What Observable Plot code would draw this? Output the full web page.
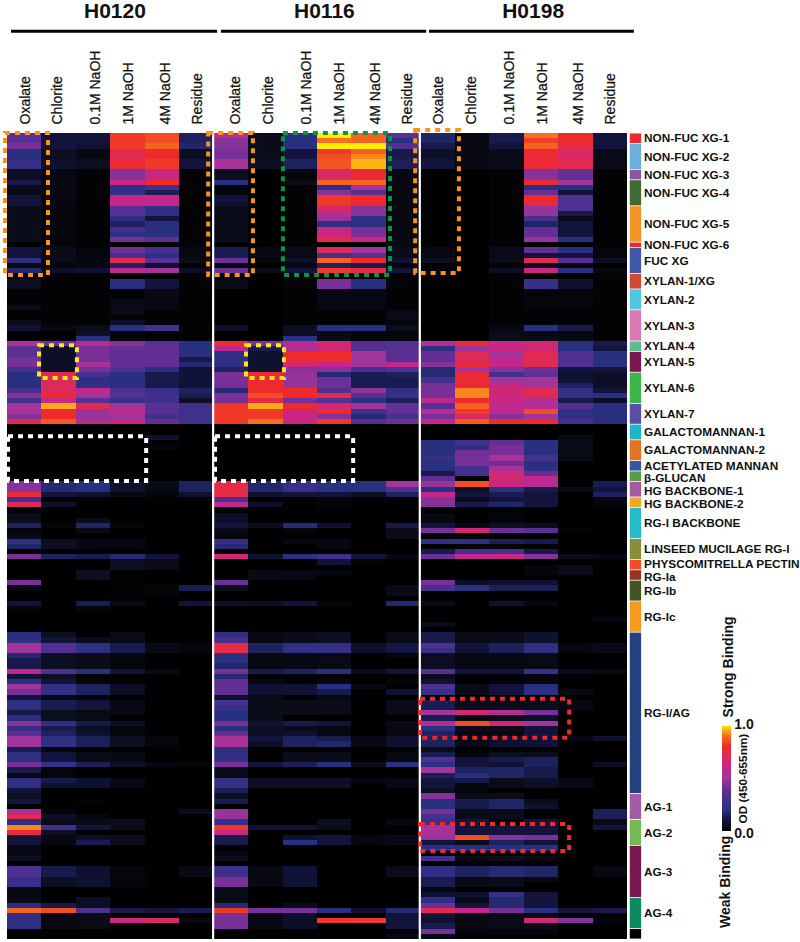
<!DOCTYPE html>
<html><head><meta charset="utf-8">
<style>html,body{margin:0;padding:0;background:#fff}svg{display:block}</style>
<script src="https://cdn.jsdelivr.net/npm/d3@7"></script>
<script src="https://cdn.jsdelivr.net/npm/@observablehq/plot@0.6"></script>
</head><body><div id="c"></div>
<script>
// Each list: start row, OD value, start row, OD value ... (a value holds until the next start row)
const h0120_oxalate=[0,.36,2,.42,3,.2,5,.25,7,.06,9,.12,10,.04,12,.1,14,.05,21,0,22,.1,24,.22,25,.03,26,.17,27,0,28,.06,30,.01,33,.05,34,.01,36,.05,37,.08,38,0,40,.52,41,.36,43,.42,45,.3,46,.2,49,.3,50,.45,51,.28,52,.52,54,.45,55,.72,56,0,67,.45,69,.78,70,.3,71,.7,72,0,73,.05,75,.15,76,.02,77,.04,78,.22,79,.16,80,0,81,.42,82,0,86,.42,87,.03,88,0,90,.1,91,.02,92,0,96,.2,97,.22,98,.5,100,.17,101,.12,103,.6,104,.1,105,.2,106,.5,107,.42,108,.1,109,.22,111,.12,112,.2,113,.45,114,.25,115,.35,116,.5,118,.13,119,.22,121,.42,122,.12,123,.03,124,.22,126,.1,127,.06,128,.1,129,0,130,.52,131,.72,132,.22,133,.92,134,.75,135,.1,137,.03,139,.06,140,0,141,.32,143,.25,145,.03,147,.04,148,.2,149,.88,150,.22,153,0];
const h0120_chlorite=[0,.1,3,.06,5,.08,7,.03,14,.02,22,.05,24,.05,25,.02,26,.07,27,.01,37,.03,38,0,40,.4,41,.07,46,.72,47,.7,50,.8,51,.62,52,.95,53,.8,55,.87,56,0,67,.18,69,.1,70,0,71,.07,72,0,75,.02,76,0,78,.06,80,0,81,.15,82,0,96,.06,97,.1,98,.33,100,.06,103,.32,104,.06,105,.1,106,.24,108,.03,109,.13,111,.06,113,.22,114,.13,115,.15,116,.22,118,.02,119,.1,121,.25,122,.02,124,.12,125,.08,126,0,130,.02,131,.07,132,.04,133,.28,134,.07,135,.03,137,0,141,.12,143,.06,145,0,148,.12,149,.85,150,.03,153,0];
const h0120_naoh01=[0,.1,2,.08,3,.03,5,.06,7,.01,22,.02,24,.03,26,.08,27,.01,37,.05,38,.07,39,.2,40,.55,41,.42,44,.52,45,.42,46,.3,47,.22,49,.6,50,.5,51,.35,52,.72,53,.48,55,.55,56,0,67,.2,69,.08,70,0,74,.05,75,.16,76,.04,77,0,78,.03,80,0,81,.13,82,0,84,.06,86,0,90,.13,91,.02,92,0,97,.05,98,.22,100,.05,103,.2,104,0,105,.02,106,.15,108,.02,109,.1,111,.04,113,.12,114,.06,115,.08,116,.14,118,0,119,.04,121,.14,122,0,124,.08,126,0,128,.01,129,0,131,.02,132,.04,133,.1,134,0,135,.07,136,.13,137,0,141,.08,145,0,147,.06,149,.32,150,.04,153,0];
const h0120_naoh1=[0,.82,3,.72,5,.78,7,.45,9,.62,10,.22,12,.6,14,.35,16,.22,17,.15,18,.3,19,.22,20,.42,21,0,22,.4,23,.3,24,.72,25,.15,26,.58,27,0,28,.2,30,.01,32,.04,35,.01,36,.07,37,.2,38,.02,40,.45,41,.38,45,.33,46,.2,49,.32,50,.35,51,.25,52,.5,53,.6,54,.5,55,.62,56,0,67,.08,69,.04,70,0,75,.02,76,0,78,.03,80,0,81,.18,82,.06,84,0,85,.01,90,.03,91,0,96,.04,98,.13,100,.02,103,.1,104,0,105,.01,106,.07,108,0,109,.03,112,0,113,.07,114,.02,116,.06,118,0,119,.03,121,.07,122,0,124,.03,126,0,132,.05,134,0,135,.05,137,0,141,.02,145,0,149,.12,150,0,151,.62,152,.01,153,0];
const h0120_naoh4=[0,.85,2,.88,3,.8,5,.82,7,.62,9,.8,10,.3,11,.14,12,.6,14,.22,16,.1,17,.2,20,.36,21,0,22,.3,23,.22,24,.35,25,.08,26,.5,27,0,28,.1,30,.03,34,.01,37,.3,38,0,40,.35,41,.38,45,.2,46,.12,49,.25,50,.28,52,.35,54,.28,55,.38,56,0,58,.08,59,0,60,.02,61,0,67,.04,69,.02,70,0,81,.1,82,.04,84,0,87,.02,89,0,98,.04,100,0,103,.03,104,0,116,.02,118,0,121,.03,122,0,149,.1,150,0,151,.68,152,0];
const h0120_residue=[0,.15,2,.17,3,.06,5,.1,7,.01,22,.03,24,.05,25,0,26,.07,27,.01,37,.01,40,.2,43,.12,44,.18,45,.09,49,.15,50,.13,51,.06,52,.28,56,0,67,.15,69,.08,70,0,87,.13,88,0,90,.1,91,0,98,.02,100,0,121,.02,122,0,130,.05,131,0,141,.04,143,0,149,.13,150,0,151,.03,152,0];
const h0116_oxalate=[0,.55,1,.45,3,.42,5,.52,7,.06,9,.2,10,.02,12,.1,13,.08,14,.05,21,0,22,.13,24,.4,25,.03,26,.4,27,0,28,.04,30,0,37,.07,38,0,40,.8,41,.58,42,.22,45,.15,46,.42,49,.18,50,.42,52,.82,56,0,67,.75,70,.32,71,.58,72,0,73,.07,75,.1,76,.04,77,.02,78,.24,79,.18,80,0,81,.65,82,0,86,.4,87,.05,88,0,90,.07,91,0,96,.22,97,.3,98,.75,100,.2,102,.17,103,.42,104,.18,105,.38,108,.08,109,.3,110,.25,111,.2,113,.42,114,.2,115,.38,116,.52,118,.22,119,.23,121,.42,122,.05,124,.24,126,.14,127,.06,128,.12,129,0,130,.48,132,.25,133,.82,134,.62,135,.12,137,0,138,.03,139,.05,140,0,141,.27,143,.42,145,.04,148,.18,149,.82,150,.42,153,0];
const h0116_chlorite=[0,.05,5,.06,7,0,22,.03,24,.02,25,0,26,.05,27,0,40,.42,41,.13,42,.08,46,.78,48,.8,50,.85,51,.75,52,.95,53,.82,55,.9,56,0,67,.17,69,.08,70,0,71,.07,72,0,75,.05,76,0,81,.08,82,0,84,.04,86,0,90,.06,91,0,96,.03,98,.15,100,.03,103,.12,104,0,105,.03,106,.08,108,.04,109,.05,113,.08,114,.06,116,.1,117,.07,118,0,121,.1,122,0,124,.07,126,0,133,.09,134,0,141,.03,145,0,149,.42,150,.03,153,0];
const h0116_naoh01=[0,.2,3,.1,5,.15,7,.02,9,.05,10,.01,22,.04,24,.07,25,.03,26,.1,27,.01,37,.06,39,.2,40,.55,42,.8,44,.65,45,.45,46,.48,49,.8,51,.42,52,.8,53,.62,56,0,67,.25,69,.1,70,0,75,.18,76,.02,77,0,78,.03,79,0,81,.22,82,0,84,.03,86,0,90,.1,91,0,96,.05,98,.23,100,.03,103,.15,104,0,105,.01,106,.09,108,0,109,.05,112,0,113,.12,114,.05,115,.08,116,.15,118,0,119,.05,121,.14,122,0,124,.07,126,0,133,.09,134,0,135,.08,136,.2,137,0,141,.09,145,0,148,.05,149,.42,150,.07,153,0];
const h0116_naoh1=[0,1,1,.9,2,1,3,.82,4,.85,5,.86,7,.68,9,.88,10,.22,11,.45,12,.82,14,.68,15,.58,16,.48,17,.22,18,.62,20,.75,21,0,22,.7,23,.28,24,.88,25,.15,26,.82,27,0,28,.42,30,.03,34,.01,37,.2,38,.04,40,.65,42,.8,44,.6,45,.45,46,.18,47,.4,49,.32,50,.72,51,.35,52,.65,53,.8,54,.45,55,.82,56,0,67,.2,69,.1,70,.02,72,0,75,.08,76,0,78,.03,80,0,81,.28,82,.09,83,0,84,.03,85,0,90,.02,91,0,96,.06,98,.24,100,.04,103,.2,104,0,105,.03,106,.2,107,.12,108,.03,109,.05,112,0,113,.1,114,.03,116,.12,117,.17,118,0,119,.05,121,.2,122,0,124,.07,126,0,132,.06,133,.05,134,0,135,.1,137,0,149,.2,150,0,151,.82,152,0];
const h0116_naoh4=[0,.88,2,1,3,.88,4,.92,5,.96,7,.78,9,.88,10,.52,11,.35,12,.8,14,.45,16,.22,17,.2,18,.42,20,.62,21,0,22,.5,23,.35,24,.8,25,.12,26,.75,27,0,28,.2,30,.03,34,.01,37,.2,38,.02,40,.33,42,.5,45,.3,46,.13,49,.47,50,.35,51,.2,52,.5,53,.28,54,.18,55,.35,56,0,67,.2,69,.06,70,0,81,.1,82,.01,83,0,98,.07,100,0,103,.05,104,0,106,.03,107,0,116,.03,118,0,121,.05,122,0,124,.03,125,0,135,.03,137,0,149,.08,150,0,151,.82,152,0];
const h0116_residue=[0,.35,1,.2,2,.33,3,.12,5,.14,7,.03,22,.05,24,.08,25,.02,26,.1,27,.01,34,.04,36,.02,37,.05,38,.02,40,.35,44,.6,45,.33,46,.15,47,.13,49,.23,50,.25,51,.14,52,.38,54,.3,55,.4,56,0,67,.5,68,.32,69,.15,70,0,75,.12,76,.05,78,0,81,.03,82,0,87,.04,89,0,90,.17,91,0,96,.04,98,.11,100,.02,101,0,103,.1,104,0,105,.02,106,0,107,.08,108,0,109,.04,112,0,113,.04,114,.03,116,.08,118,0,119,.03,121,.2,122,0,124,.03,126,0,132,.03,133,0,135,.04,137,0,141,.05,143,0,149,.18,150,.1,153,0,154,.03];
const h0198_oxalate=[0,.16,2,.12,3,.07,5,.1,7,0,22,.03,24,.06,25,0,26,.02,27,0,40,.55,41,.2,42,.38,44,.45,45,.18,47,.3,48,.42,51,.58,52,.35,53,.55,54,.42,55,.6,56,0,59,.2,62,.24,63,.2,65,.12,66,.38,67,.48,68,.2,69,.6,70,.45,72,0,73,.03,75,.1,76,.42,77,0,78,.22,79,0,80,.12,81,.4,82,0,86,.42,87,.3,88,0,90,.04,91,0,94,.05,95,0,96,.12,98,.33,99,.25,100,.06,103,.35,104,.05,105,.08,106,.33,107,.25,108,0,109,.13,111,.5,112,.13,113,.55,114,.2,115,.15,118,.05,119,.13,120,.33,121,.22,122,.5,123,.14,124,.1,126,.06,127,.45,128,.2,130,.42,131,.3,132,.25,133,.52,135,.48,136,.1,137,.2,138,0,139,.28,140,0,141,.22,143,.13,145,.03,146,.08,147,.22,148,.4,149,.72,150,.1,151,.08,152,.13,153,.42,154,.03];
const h0198_chlorite=[0,.03,7,0,40,.78,41,.5,42,.72,43,.68,44,.78,45,.5,46,.78,49,.92,51,.8,52,.88,53,.82,54,.7,55,.87,56,0,59,.3,60,.22,61,.42,64,.3,66,0,67,.85,68,.07,69,.1,70,.05,71,.12,72,0,75,.03,76,.65,77,0,78,.22,79,0,80,.3,81,.6,82,0,86,.06,87,.2,88,0,96,.04,98,.1,99,.08,100,.03,103,.1,104,0,106,.04,108,0,109,.05,111,.65,112,.03,113,.85,114,.05,115,.03,116,.04,118,0,119,.02,120,.1,122,.15,123,.2,124,.12,125,.02,127,.05,128,.12,130,.05,132,.1,135,.85,136,.05,137,.2,138,0,139,.03,140,0,141,.15,143,.04,145,0,146,.08,147,.04,148,.1,149,.6,150,.03,153,.02,154,0];
const h0198_naoh01=[0,.12,2,.1,3,.05,7,.01,22,.04,24,.05,25,.01,26,.07,27,.01,37,.03,38,.05,40,.62,42,.5,43,.6,45,.45,46,.28,47,.5,48,.6,49,.65,50,.62,52,.58,54,.45,55,.8,56,0,59,.38,60,.42,62,.52,63,.4,64,.52,65,.65,67,.62,68,.2,69,.13,70,.1,71,.16,72,0,73,.02,75,.06,76,.4,77,0,78,.14,79,0,80,.3,81,.62,82,0,86,.08,87,.14,88,0,90,.08,91,0,96,.05,98,.14,100,.03,103,.1,104,.01,106,.1,108,0,109,.05,111,.55,112,.05,113,.65,114,.05,115,.03,116,.08,118,0,119,.06,120,.12,121,.09,122,.16,124,.05,126,0,127,.05,128,.16,130,.05,132,0,133,.1,135,.45,136,.15,137,.2,138,0,139,.06,140,0,141,.18,143,.05,145,0,146,.25,147,.18,149,.42,150,.04,153,.02,154,0];
const h0198_naoh1=[0,.9,1,.83,2,.88,3,.78,7,.45,9,.78,10,.2,11,.38,12,.8,13,.75,14,.48,16,.3,17,.16,18,.38,20,.48,21,0,22,.38,23,.1,24,.72,25,.05,26,.62,27,0,28,.25,30,.02,34,.01,37,.2,38,.04,40,.65,42,.72,45,.4,46,.38,47,.5,49,.72,51,.55,53,.85,54,.5,55,.8,56,0,59,.2,62,.3,63,.2,64,.22,65,.38,66,.6,67,.55,68,.12,69,.1,72,0,75,.05,76,.35,77,0,78,.12,79,0,80,.12,81,.45,82,0,83,.02,85,0,86,.08,87,.14,88,0,90,.03,91,0,96,.08,98,.22,100,.04,103,.25,104,.02,106,.2,108,0,109,.05,111,.42,112,.07,113,.5,114,.1,116,.09,118,0,119,.05,120,.15,122,.12,124,.07,126,0,128,.05,129,.08,130,0,132,.1,135,.42,136,.1,137,.2,138,0,139,.03,140,0,141,.16,143,.03,144,0,146,.1,149,.2,150,.04,151,.65,152,.04,153,.02,154,0];
const h0198_naoh4=[0,.8,2,.75,3,.68,5,.72,7,.38,9,.5,10,.2,11,.1,12,.32,15,.12,16,.05,17,.1,20,.2,21,0,22,.2,23,.1,24,.35,25,.03,26,.2,27,0,28,.08,30,.02,34,.01,37,.12,38,.03,40,.2,42,.33,45,.1,46,.08,48,.15,49,.25,51,.12,52,.33,53,.22,55,.3,56,0,58,.04,63,0,68,.04,69,0,76,.01,77,0,81,.05,82,0,83,.05,85,0,98,.03,100,0,103,.05,104,0,107,.04,108,0,109,.03,111,0,116,.03,117,0,124,.04,126,0,149,.1,150,0,151,.45,152,0];
const h0198_residue=[0,.1,3,.04,7,.01,22,.02,24,.06,25,0,26,.03,27,.01,37,.01,40,.12,41,.1,42,.2,45,.1,46,.07,49,.1,50,.2,51,.07,52,.2,56,0,67,.13,68,.1,69,.15,70,.02,72,0,81,.03,82,0,93,.03,94,0,98,.04,100,0,103,.03,104,0,116,.08,117,0,121,.06,122,0,130,.14,132,.04,133,.1,134,0,141,.03,143,0,149,.12,150,0,151,.02,152,0];

const columnLists=[h0120_oxalate,h0120_chlorite,h0120_naoh01,h0120_naoh1,h0120_naoh4,h0120_residue,h0116_oxalate,h0116_chlorite,h0116_naoh01,h0116_naoh1,h0116_naoh4,h0116_residue,h0198_oxalate,h0198_chlorite,h0198_naoh01,h0198_naoh1,h0198_naoh4,h0198_residue];
const fractions=["Oxalate","Chlorite","0.1M NaOH","1M NaOH","4M NaOH","Residue"];
const samples=["H0120","H0116","H0198"];
const sampleCentres=[3.12,9.2,15.26];
const barStarts=[.116,6.21,12.25];
const barEnds=[6.1,12.17,18.2];
const fractionCols=[.52,1.45,2.56,3.51,4.59,5.52,6.62,7.58,8.68,9.65,10.69,11.61,12.51,13.47,14.58,15.53,16.58,17.51];
const groupNames=["NON-FUC XG-1","NON-FUC XG-2","NON-FUC XG-3","NON-FUC XG-4","NON-FUC XG-5","NON-FUC XG-6","FUC XG","XYLAN-1/XG","XYLAN-2","XYLAN-3","XYLAN-4","XYLAN-5","XYLAN-6","XYLAN-7","GALACTOMANNAN-1","GALACTOMANNAN-2","ACETYLATED MANNAN","β-GLUCAN","HG BACKBONE-1","HG BACKBONE-2","RG-I BACKBONE","LINSEED MUCILAGE RG-I","PHYSCOMITRELLA PECTIN","RG-Ia","RG-Ib","RG-Ic","RG-I/AG","AG-1","AG-2","AG-3","AG-4",""];
const groupStarts=[0,2,7,9,14,21,22,27,30,34,40,42,46,52,56,59,63,65,67,70,72,78,82,84,86,90,96,127,132,137,147,153];
const groupColors=["#ee2a2e","#6ab0dc","#8a55a5","#3f6b34","#f29528","#ee2a2e","#3f59a8","#d2492e","#4dc6e0","#db79b5","#5abf8f","#7a1750","#3cb64b","#5d4ea5","#1db6c8","#e17327","#3a55a8","#549d46","#a559a5","#eea72b","#25bccb","#8a8d3c","#f04e2a","#9b3325","#435425","#f49b20","#24427f","#a45ba5","#73b954","#7a1750","#0a8a5e","#000000"];
const labelNudge={"β-GLUCAN":.35,"HG BACKBONE-1":.2,"HG BACKBONE-2":.2,"PHYSCOMITRELLA PECTIN":-.25,"RG-Ia":.25};
const odStops=[0,.02,.05,.1,.2,.3,.4,.5,.6,.7,.8,.9,.96,1];
const odColors=["#000000","#05060c","#0a0c1a","#12143e","#2a3080","#45308f","#6c2f96","#a2359b","#c4268c","#dc2a5a","#ee2a2a","#f7701f","#fdb515","#ffee00"];
const boxes=[
 {x1:-.06,x2:1.19,y1:0,y2:27.3,c:"#f7941e"},{x1:5.84,x2:7.14,y1:0,y2:27.3,c:"#f7941e"},{x1:8.01,x2:11.12,y1:0,y2:27.3,c:"#0b9444"},{x1:11.85,x2:13.12,y1:-.6,y2:26.9,c:"#f7941e"},
 {x1:.93,x2:2.03,y1:40.8,y2:47.1,c:"#ffe81a"},{x1:6.94,x2:8.04,y1:40.8,y2:47.1,c:"#ffe81a"},
 {x1:.03,x2:4.04,y1:58.3,y2:66.9,c:"#ffffff"},{x1:6.04,x2:10.05,y1:58.3,y2:66.9,c:"#ffffff"},
 {x1:11.99,x2:16.32,y1:108.8,y2:116.3,c:"#ee2a2a"},{x1:11.99,x2:16.32,y1:132.9,y2:138.1,c:"#ee2a2a"}];

const ROWS=155;
const cells=[];
columnLists.forEach((list,col)=>{
  for(let i=0;i<list.length;i+=2){
    const end=i+2<list.length?list[i+2]:ROWS;
    for(let r=list[i];r<end;r++)cells.push({col,row:r,od:list[i+1]});
  }
});
const groups=groupNames.map((name,i)=>({name,start:groupStarts[i],end:i+1<groupStarts.length?groupStarts[i+1]:ROWS,color:groupColors[i]}));
const colLabels=fractionCols.map((col,i)=>({t:fractions[i%6],col}));
const ramp=d3.range(0,1,.01);
const sans="'Liberation Sans',Arial,sans-serif";
const bold={fontFamily:sans,fontWeight:"bold"};

const chart=Plot.plot({
  width:800,height:942,marginLeft:7,marginRight:173,marginTop:133,marginBottom:3,
  style:{background:"#fff"},
  x:{domain:[0,18],axis:null},
  y:{domain:[0,ROWS],reverse:true,axis:null},
  color:{type:"linear",domain:odStops,range:odColors,interpolate:"rgb"},
  marks:[
    Plot.rect(cells,{x1:"col",x2:d=>d.col+1,y1:"row",y2:d=>d.row+1,fill:"od",shapeRendering:"crispEdges"}),
    Plot.ruleX([5.97,11.97],{stroke:"#fff",strokeWidth:2.2}),
    Plot.rect(boxes,{x1:"x1",x2:"x2",y1:"y1",y2:"y2",fill:null,stroke:"c",strokeWidth:4,strokeDasharray:"5,5"}),
    // side strip and group names
    Plot.rect(groups,{x1:()=>18.08,x2:()=>18.41,y1:"start",y2:"end",fill:"color",insetTop:.4,insetBottom:.4}),
    Plot.text(groups,{x:()=>18.48,y:d=>(d.start+d.end)/2+(labelNudge[d.name]||0),text:"name",textAnchor:"start",fontSize:11.8,fill:"#111",...bold}),
    // sample titles and rules
    Plot.text(samples,{x:(d,i)=>sampleCentres[i],y:()=>-23.55,text:d=>d,fontSize:21,fill:"#111",...bold}),
    Plot.ruleY(samples,{y:()=>-19.65,x1:(d,i)=>barStarts[i],x2:(d,i)=>barEnds[i],stroke:"#000",strokeWidth:3}),
    // fraction labels
    Plot.text(colLabels,{x:"col",y:()=>-1.73,text:"t",rotate:-90,textAnchor:"start",fontSize:14,fill:"#111",stroke:"#111",strokeWidth:.25,fontFamily:sans}),
    // colour bar
    Plot.rect(ramp,{x1:()=>20.76,x2:()=>21.02,y1:d=>134.2-(d+.01)*20.2,y2:d=>134.2-d*20.2,fill:d=>d,shapeRendering:"crispEdges"}),
    Plot.text(["1.0"],{x:()=>21.1,y:()=>113.6,text:d=>d,textAnchor:"start",fontSize:14,fill:"#111",...bold}),
    Plot.text(["0.0"],{x:()=>21.1,y:()=>134.6,text:d=>d,textAnchor:"start",fontSize:14,fill:"#111",...bold}),
    Plot.text(["OD (450-655nm)"],{x:()=>21.36,y:()=>132.7,text:d=>d,rotate:-90,textAnchor:"start",fontSize:11.8,fill:"#111",...bold}),
    Plot.text(["Strong Binding"],{x:()=>20.93,y:()=>112.3,text:d=>d,rotate:-90,textAnchor:"start",fontSize:14,fill:"#111",...bold}),
    Plot.text(["Weak Binding"],{x:()=>20.84,y:()=>152.8,text:d=>d,rotate:-90,textAnchor:"start",fontSize:14,fill:"#111",...bold})
  ]
});
document.getElementById("c").append(chart);
</script></body></html>
